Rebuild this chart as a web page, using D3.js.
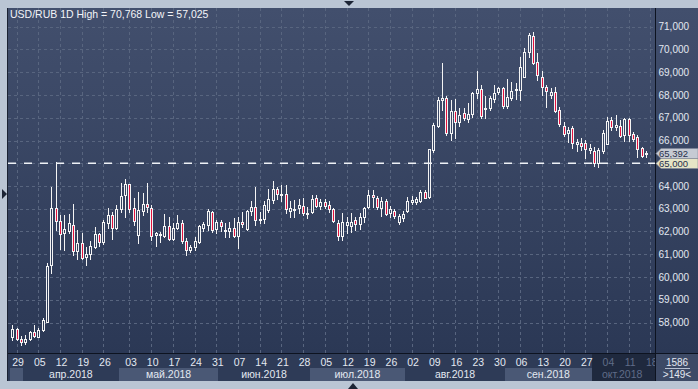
<!DOCTYPE html>
<html>
<head>
<meta charset="utf-8">
<script src="https://cdn.jsdelivr.net/npm/d3@7"></script>
<style>
  body { margin: 0; background: #bac5d4; overflow: hidden; }
  svg { display: block; font-family: "Liberation Sans", Arial, sans-serif; }
</style>
</head>
<body>
<svg id="chart" width="698" height="389"></svg>
<script>
const symbol = 'USD/RUB 1D'
const highValue = 70.768
const lowValue = 57.025
const levelValue = 65
const barInfo = ['1586', '>149<']

// daily candles, 28.03.2018 - 17.10.2018
const opens = [57.36,57.71,57.27,57.16,57.26,57.57,57.38,57.67,58.04,60.53,63.05,62.46,61.92,62.04,62.29,61.14,61.51,60.87,61.00,61.31,
  61.88,61.51,62.40,62.73,62.14,62.98,63.57,64.07,63.02,61.85,62.90,63.20,63.05,61.82,61.88,61.82,62.25,61.67,62.14,62.36,
  61.58,61.17,61.31,61.55,62.14,62.29,62.87,62.10,62.40,62.02,61.99,62.14,61.80,62.40,62.10,62.87,63.06,62.51,62.54,62.95,
  63.35,63.85,63.64,63.65,62.91,62.95,63.02,63.12,62.77,62.87,63.46,63.12,63.31,63.16,62.98,62.39,61.82,62.29,62.24,62.51,
  62.33,62.62,63.06,63.60,63.46,63.06,63.35,62.80,62.91,62.42,62.59,62.91,63.31,63.30,63.35,63.75,63.50,65.58,66.64,67.78,
  67.85,66.32,67.30,66.83,67.22,66.94,67.16,68.07,68.25,67.40,67.42,67.81,68.10,68.29,67.49,67.90,68.19,68.25,68.80,69.90,
  70.59,69.44,68.80,68.34,68.04,68.15,67.34,66.65,66.32,66.54,65.83,65.90,65.88,65.58,65.54,65.00,65.51,65.88,66.90,66.61,
  66.64,66.24,66.93,66.29,66.17,65.66,65.45]
const highs = [57.89,57.76,57.41,57.45,57.63,57.89,57.74,58.18,60.62,63.97,65.04,62.73,62.73,62.77,63.21,62.07,61.93,61.33,61.58,62.18,
  61.92,62.51,63.02,62.87,63.16,64.13,64.31,64.10,63.47,63.75,63.68,64.12,63.16,61.99,61.99,62.77,62.64,62.39,62.73,62.51,
  61.70,61.41,61.77,62.29,62.43,62.98,62.92,62.51,62.51,62.36,62.40,62.58,62.65,62.87,62.95,63.35,63.97,62.87,63.35,63.85,
  64.23,63.94,64.04,64.04,63.35,63.38,63.42,63.46,63.09,63.60,63.60,63.42,63.42,63.35,63.02,62.51,62.80,62.62,62.80,62.65,
  62.83,63.09,63.82,63.82,63.56,63.53,63.42,63.12,63.00,62.75,62.90,63.53,63.56,63.53,63.82,63.82,65.64,66.75,67.93,69.39,
  67.96,67.78,67.81,67.42,67.42,67.66,68.14,69.07,68.44,67.96,67.96,68.44,68.36,68.36,68.69,68.58,68.54,69.68,70.05,70.71,
  70.77,69.84,69.07,68.44,68.29,68.36,67.46,66.83,66.61,66.64,66.05,66.10,66.02,65.85,65.70,65.66,66.46,67.05,67.02,67.12,
  66.90,66.98,66.98,66.39,66.24,65.73,65.54]
const lows = [57.23,57.23,57.03,57.05,57.23,57.38,57.35,57.64,58.04,60.19,62.07,61.23,61.19,61.93,60.97,60.79,60.78,60.53,60.79,61.26,
  61.36,61.45,62.14,61.67,62.10,62.87,62.65,62.87,62.29,61.48,62.73,62.87,61.63,61.36,61.53,61.75,61.63,61.63,62.10,61.51,
  60.97,61.11,61.19,61.51,62.04,62.07,61.99,61.92,62.02,61.77,61.77,61.77,61.26,62.21,62.07,62.73,62.29,62.36,62.36,62.87,
  63.27,63.42,63.35,62.80,62.65,62.65,62.80,62.73,62.58,62.83,63.06,62.98,63.02,62.87,62.43,61.63,61.63,61.92,61.99,62.07,
  62.10,62.43,63.02,63.09,62.98,62.68,62.73,62.65,62.60,62.35,62.45,62.87,63.21,63.20,63.31,63.46,63.46,65.50,66.58,67.34,
  66.24,66.02,66.10,66.64,66.90,66.83,67.05,67.85,66.98,66.98,67.34,67.70,68.04,67.42,67.42,67.78,67.81,67.78,68.78,69.68,
  69.36,68.66,68.00,67.46,67.85,67.27,66.64,66.20,65.95,65.66,65.55,65.58,65.22,65.44,64.88,64.85,65.44,65.85,66.46,66.46,
  66.14,65.99,65.99,65.99,65.29,65.26,65.26]
const closes = [57.71,57.27,57.14,57.27,57.57,57.41,57.67,58.11,60.48,63.05,62.46,61.89,62.10,62.39,61.14,61.51,60.87,61.00,61.36,61.88,
  61.51,62.40,62.73,62.14,62.98,63.57,64.07,62.98,62.46,62.95,63.20,63.05,61.82,61.92,61.90,62.25,61.68,62.14,62.36,61.55,
  61.19,61.31,61.58,62.24,62.32,62.90,62.10,62.40,62.21,62.07,62.14,61.80,62.40,62.32,62.90,63.06,62.51,62.54,63.16,63.42,
  63.85,63.65,63.66,62.98,63.02,63.00,63.16,62.80,62.83,63.42,63.12,63.31,63.12,62.98,62.47,61.82,62.43,62.43,62.43,62.33,
  62.65,63.02,63.60,63.50,63.06,63.35,62.80,62.98,62.69,62.68,62.77,63.35,63.38,63.45,63.75,63.50,65.61,66.68,67.78,67.85,
  66.32,67.30,66.83,67.12,66.98,67.16,68.07,68.25,67.05,67.44,67.85,68.07,68.29,67.49,67.90,68.19,68.25,69.24,69.90,70.64,
  69.39,68.88,68.34,68.15,68.15,67.31,66.71,66.29,66.46,65.90,65.92,65.76,65.61,65.66,65.00,65.58,66.32,66.87,66.61,66.68,
  66.20,66.93,66.24,66.05,65.66,65.32,65.392]

const priceTicks = [58, 59, 60, 61, 62, 63, 64, 65, 66, 67, 68, 69, 70, 71]
const dayLabels = ['29','05','12','19','26','03','10','17','24','31','07','14','21','28','05',
  '12','19','26','02','09','16','23','30','06','13','20','27','04','11','18']
const dayIndex = [1,6,11,16,21,27,32,37,42,47,52,57,62,67,72,77,82,87,92,97,102,107,112,117,122,127,132,137,142,147]
const months = ['мар.2018','апр.2018','май.2018','июн.2018','июл.2018','авг.2018','сен.2018','окт.2018']
const monthStart = [0, 3, 25, 48, 69, 91, 114, 134]
const monthEnd = 148

const plot = { left: 8, right: 655, top: 8, bottom: 354 }
const axisBottom = 381

const ru = d3.formatLocale({ decimal: ',', thousands: ' ', grouping: [3], currency: ['', ''] })
const fmt = ru.format('.3f')

const svg = d3.select('#chart')
const defs = svg.append('defs')

const grad = defs.append('linearGradient')
  .attr('id', 'bg')
  .attr('gradientUnits', 'userSpaceOnUse')
  .attr('x1', 0).attr('y1', plot.top)
  .attr('x2', 0).attr('y2', plot.bottom)
grad.append('stop').attr('offset', 0).attr('stop-color', '#424f6d')
grad.append('stop').attr('offset', 1).attr('stop-color', '#2b3855')

defs.append('clipPath').attr('id', 'plot-clip')
  .append('rect')
  .attr('x', plot.left).attr('y', plot.top)
  .attr('width', plot.right - plot.left).attr('height', plot.bottom - plot.top)

const x = d3.scaleLinear().domain([0, 146]).range([12.3, 646])
const y = d3.scaleLinear().domain([57, 71]).range([345.25, 26.75])
const px = i => Math.round(x(i))
const snap = v => Math.round(v) + 0.5

// backgrounds
svg.append('rect').attr('x', plot.left).attr('y', plot.top)
  .attr('width', 698 - plot.left).attr('height', plot.bottom - plot.top)
  .attr('fill', 'url(#bg)')
svg.append('rect').attr('x', plot.left).attr('y', plot.bottom)
  .attr('width', plot.right - plot.left).attr('height', axisBottom - plot.bottom)
  .attr('fill', '#2e3b57')
svg.append('rect').attr('x', plot.right).attr('y', plot.bottom)
  .attr('width', 698 - plot.right).attr('height', axisBottom - plot.bottom)
  .attr('fill', '#3d4a66')

// grid
const grid = svg.append('g').attr('clip-path', 'url(#plot-clip)')
grid.selectAll('.hgrid')
  .data(priceTicks)
  .enter().append('line')
  .attr('class', 'hgrid')
  .attr('x1', plot.left).attr('x2', plot.right)
  .attr('y1', d => snap(y(d))).attr('y2', d => snap(y(d)))
  .attr('stroke', '#58657f').attr('stroke-dasharray', '3,3')
grid.selectAll('.vgrid')
  .data(dayIndex)
  .enter().append('line')
  .attr('class', 'vgrid')
  .attr('x1', d => px(d) + 0.5).attr('x2', d => px(d) + 0.5)
  .attr('y1', plot.top).attr('y2', plot.bottom)
  .attr('stroke', '#58657f').attr('stroke-dasharray', '3,3')

// month bands
const monthData = months.map((m, i) => ({
  name: m,
  x0: x(monthStart[i] - 0.5),
  x1: Math.min(plot.right, x((i + 1 < months.length ? monthStart[i + 1] : monthEnd) - 0.5)),
  current: i === months.length - 1,
  light: i % 2 === 0
}))
const axisG = svg.append('g')
const cur = monthData[monthData.length - 1]
axisG.append('rect')
  .attr('x', Math.round(cur.x0)).attr('y', plot.bottom)
  .attr('width', plot.right - Math.round(cur.x0)).attr('height', axisBottom - plot.bottom)
  .attr('fill', '#1f293e')
axisG.selectAll('.band')
  .data(monthData.filter(d => d.light && !d.current))
  .enter().append('rect')
  .attr('x', d => Math.round(d.x0)).attr('y', 368)
  .attr('width', d => Math.round(d.x1) - Math.round(d.x0)).attr('height', axisBottom - 368)
  .attr('fill', '#4a5875')
axisG.selectAll('.month')
  .data(monthData.filter(d => d.x1 - d.x0 > 40))
  .enter().append('text')
  .attr('x', d => (d.x0 + d.x1) / 2).attr('y', 377.5)
  .attr('text-anchor', 'middle')
  .attr('font-size', 10.5)
  .attr('fill', d => d.current ? '#5f6c88' : '#e3e8f1')
  .text(d => d.name)

const dayG = svg.append('g').attr('clip-path', 'url(#axis-clip)')
defs.append('clipPath').attr('id', 'axis-clip')
  .append('rect').attr('x', plot.left).attr('y', plot.bottom)
  .attr('width', plot.right - plot.left).attr('height', axisBottom - plot.bottom)
dayG.selectAll('.day')
  .data(dayLabels)
  .enter().append('text')
  .attr('x', (d, i) => x(dayIndex[i]) + 1.5).attr('y', 366)
  .attr('text-anchor', 'middle')
  .attr('font-size', 10.5)
  .attr('fill', (d, i) => dayIndex[i] >= monthStart[monthStart.length - 1] ? '#5f6c88' : '#e3e8f1')
  .text(d => d)

// candles
const candles = opens.map((o, i) => ({ i, o, h: highs[i], l: lows[i], c: closes[i] }))
const cg = svg.append('g').attr('clip-path', 'url(#plot-clip)')
const candle = cg.selectAll('.candle')
  .data(candles)
  .enter().append('g')
  .attr('class', 'candle')
candle.append('line')
  .attr('x1', d => px(d.i) + 0.5).attr('x2', d => px(d.i) + 0.5)
  .attr('y1', d => Math.round(y(d.h))).attr('y2', d => Math.round(y(d.l)) + 1)
  .attr('stroke', '#f4f4f4')
candle.append('rect')
  .attr('x', d => px(d.i) - 0.5)
  .attr('y', d => snap(y(Math.max(d.o, d.c))))
  .attr('width', 2)
  .attr('height', d => Math.max(1, Math.round(Math.abs(y(d.o) - y(d.c)))))
  .attr('fill', d => d.c < d.o ? '#e3123e' : 'url(#bg)')
  .attr('stroke', '#f4f4f4')

// level line
cg.append('line')
  .attr('x1', plot.left).attr('x2', plot.right)
  .attr('y1', y(levelValue)).attr('y2', y(levelValue))
  .attr('stroke', '#eef1f6').attr('stroke-width', 1.6)
  .attr('stroke-dasharray', '8,8')

// frame lines
svg.append('line').attr('x1', plot.right + 0.5).attr('x2', plot.right + 0.5)
  .attr('y1', plot.top).attr('y2', axisBottom).attr('stroke', '#0d1320')
svg.append('line').attr('x1', plot.left).attr('x2', 698)
  .attr('y1', plot.bottom - 0.5).attr('y2', plot.bottom - 0.5).attr('stroke', '#0d1320')
svg.append('line').attr('x1', plot.left - 0.5).attr('x2', plot.left - 0.5)
  .attr('y1', plot.top).attr('y2', axisBottom).attr('stroke', '#1b2232')

// right axis
svg.selectAll('.ytick')
  .data(priceTicks.filter(d => d !== levelValue))
  .enter().append('text')
  .attr('x', plot.right + 3.5).attr('y', d => y(d) + 3.5)
  .attr('font-size', 10)
  .attr('fill', '#e3e8f1')
  .text(d => fmt(d))

function priceTag(value, fill, textFill, shift) {
  const cy = Math.round(y(value)) + shift
  const g = svg.append('g')
  g.append('path')
    .attr('d', `M${plot.right + 1},${cy} L${plot.right + 6},${cy - 5} L698,${cy - 5} L698,${cy + 5} L${plot.right + 6},${cy + 5} Z`)
    .attr('fill', fill).attr('stroke', '#7d8598').attr('stroke-width', 0.6)
  g.append('text')
    .attr('x', plot.right + 4).attr('y', cy + 3.5)
    .attr('font-size', 9.5)
    .attr('fill', textFill)
    .text(fmt(value))
}
priceTag(closes[closes.length - 1], '#c6cad3', '#27304a', -0.5)
priceTag(levelValue, '#e6e4c6', '#27304a', 0.5)

// bottom right info
svg.append('text').attr('x', 677).attr('y', 365.5).attr('text-anchor', 'middle')
  .attr('font-size', 10).attr('fill', '#e3e8f1').text(barInfo[0])
svg.append('line').attr('x1', 665).attr('x2', 690).attr('y1', 368.5).attr('y2', 368.5)
  .attr('stroke', '#b8c2d3')
svg.append('text').attr('x', 677).attr('y', 378).attr('text-anchor', 'middle')
  .attr('font-size', 10).attr('fill', '#e3e8f1').text(barInfo[1])

// title
svg.append('text')
  .attr('x', 10).attr('y', 18)
  .attr('font-size', 10.5)
  .attr('fill', '#f2f4f8')
  .text(`${symbol} High = ${fmt(highValue)} Low = ${fmt(lowValue)}`)

// scroll arrows on the frame
svg.append('path').attr('d', 'M2,189 L7,194 L2,199 Z').attr('fill', '#1c2435')
svg.append('path').attr('d', 'M344,1 L354,1 L349,6 Z').attr('fill', '#1c2435')
svg.append('path').attr('d', 'M348,389 L358,389 L353,383 Z').attr('fill', '#1c2435')
</script>
</body>
</html>
